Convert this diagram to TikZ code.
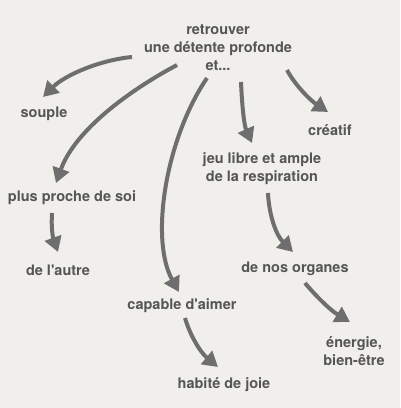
\documentclass[tikz,border=0pt]{standalone}
\usepackage{fontspec}
\setmainfont{TeX Gyre Heros}[Ligatures=TeXOff]
\usetikzlibrary{arrows.meta,calc}
\definecolor{bg}{HTML}{F0EFEC}
\definecolor{txt}{HTML}{555555}
\definecolor{arrc}{HTML}{6E6E6E}
\begin{document}
\begin{tikzpicture}[x=1pt,y=-1pt,
  lbl/.style={font=\fontsize{14.5}{18}\selectfont\bfseries, text=txt, align=center, inner sep=0pt},
  arr/.style={draw=arrc, line width=4pt, -{Triangle[length=15pt,width=17pt]}, fill=none}]
\fill[bg] (0,0) rectangle (400,408);
\useasboundingbox (0,0) rectangle (400,408);
\node[lbl] (top) at (218,48) {retrouver\\une détente profonde\\et...};
\node[lbl] (souple) at (44,114) {souple};
\node[lbl] (creatif) at (330,130) {créatif};
\node[lbl] (jeu) at (262,169) {jeu libre et ample\\de la respiration};
\node[lbl] (plus) at (72,198) {plus proche de soi};
\node[lbl] (autre) at (58,270) {de l'autre};
\node[lbl] (organes) at (295,269) {de nos organes};
\node[lbl] (capable) at (182,306) {capable d'aimer};
\node[lbl] (energie) at (354,351) {énergie,\\bien-être};
\node[lbl] (habite) at (224,385) {habité de joie};
\draw[arr] ($(top)+(-86,9)$) .. controls +(-32,3) and +(22,-22) .. ($(souple)+(-1,-17)$);
\draw[arr] ($(top)+(-41,17)$) .. controls +(-47,25) and +(19,-53) .. ($(plus)+(-16,-15)$);
\draw[arr] ($(plus)+(-20,15)$) .. controls +(-1,15) and +(-5,-14) .. ($(autre)+(0,-18)$);
\draw[arr] ($(top)+(-11,30)$) .. controls +(-42,62) and +(-29,-52) .. ($(capable)+(-3,-14)$);
\draw[arr] ($(top)+(23,34)$) .. controls +(1,23) and +(-8,-18) .. ($(jeu)+(-10,-26)$);
\draw[arr] ($(top)+(69,22)$) .. controls +(8,15) and +(-18,-12) .. ($(creatif)+(-2,-18)$);
\draw[arr] ($(jeu)+(6,24)$) .. controls +(1,22) and +(-17,-17) .. ($(organes)+(-2,-17)$);
\draw[arr] ($(organes)+(10,14)$) .. controls +(10,12) and +(-20,-12) .. ($(energie)+(-4,-29)$);
\draw[arr] ($(capable)+(3,12)$) .. controls +(5,17) and +(-18,-15) .. ($(habite)+(-6,-18)$);
\end{tikzpicture}
\end{document}
